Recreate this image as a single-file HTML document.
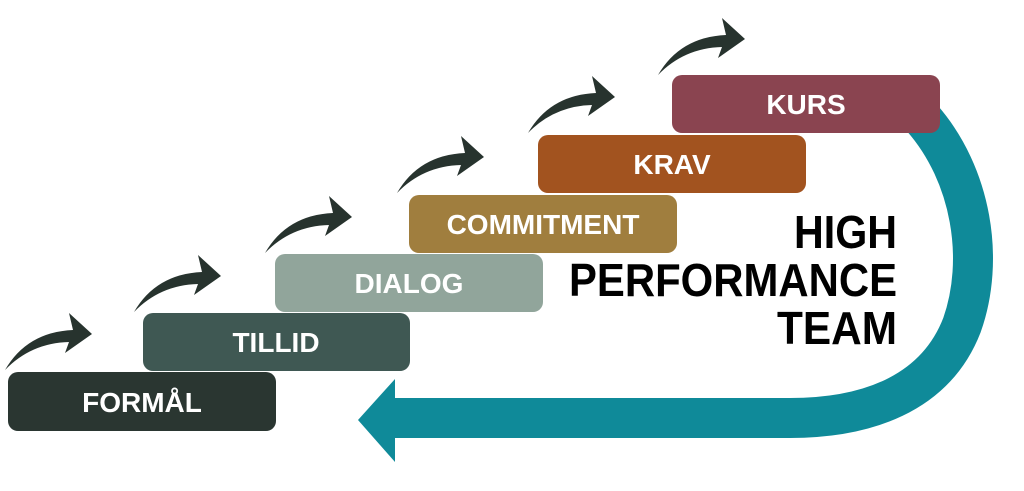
<!DOCTYPE html>
<html><head><meta charset="utf-8"><style>
html,body{margin:0;padding:0;background:#fff;}
svg{display:block;}
text{font-family:"Liberation Sans",sans-serif;font-weight:bold;}
</style></head><body>
<svg width="1024" height="491" viewBox="0 0 1024 491" xmlns="http://www.w3.org/2000/svg">
<defs>
<path id="ar" d="M0,0 Q22,-38 68,-40 L64,-57 L87,-36 L60,-17 L64,-28 Q26,-27 0,0 Z" fill="#27332e"/>
</defs>
<path d="M922,118 C972,175 985,260 962,325 C935,395 865,418 790,418 L392,418" fill="none" stroke="#0f8a99" stroke-width="40"/>
<polygon points="358,420 395,379 395,462" fill="#0f8a99"/>
<rect x="8" y="372" width="268" height="59" rx="10" fill="#2a3631"/>
<rect x="143" y="313" width="267" height="58" rx="10" fill="#3f5853"/>
<rect x="275" y="254" width="268" height="58" rx="10" fill="#91a59b"/>
<rect x="409" y="195" width="268" height="58" rx="10" fill="#a07e3e"/>
<rect x="538" y="135" width="268" height="58" rx="10" fill="#a2531f"/>
<rect x="672" y="75" width="268" height="58" rx="10" fill="#8a4450"/>
<g fill="#fff" font-size="28" text-anchor="middle">
<text x="142" y="412">FORMÅL</text>
<text x="276" y="352">TILLID</text>
<text x="409" y="293">DIALOG</text>
<text x="543" y="234">COMMITMENT</text>
<text x="672" y="174">KRAV</text>
<text x="806" y="114">KURS</text>
</g>
<g fill="#000" font-size="46" text-anchor="end">
<text x="897" y="248" textLength="103" lengthAdjust="spacingAndGlyphs">HIGH</text>
<text x="897" y="296" textLength="328" lengthAdjust="spacingAndGlyphs">PERFORMANCE</text>
<text x="897" y="344" textLength="120" lengthAdjust="spacingAndGlyphs">TEAM</text>
</g>
<use href="#ar" transform="translate(5,370)"/>
<use href="#ar" transform="translate(134,312)"/>
<use href="#ar" transform="translate(265,253)"/>
<use href="#ar" transform="translate(397,193)"/>
<use href="#ar" transform="translate(528,133)"/>
<use href="#ar" transform="translate(658,75)"/>
</svg>
</body></html>
